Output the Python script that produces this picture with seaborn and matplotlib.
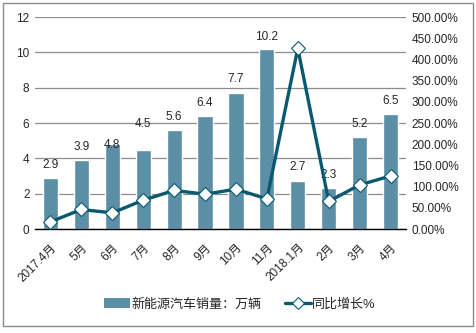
import numpy as np
import pandas as pd
import matplotlib
matplotlib.use("Agg")
import matplotlib.pyplot as plt
import seaborn as sns
from matplotlib.patches import Rectangle
from matplotlib.lines import Line2D
from matplotlib.ticker import FuncFormatter

months = ["2017.4月", "5月", "6月", "7月", "8月", "9月", "10月", "11月",
          "2018.1月", "2月", "3月", "4月"]
sales = [2.9, 3.9, 4.8, 4.5, 5.6, 6.4, 7.7, 10.2, 2.7, 2.3, 5.2, 6.5]
growth = [17, 46, 38, 68, 91, 82, 94, 71, 426, 65, 104, 125]
bar_name = "新能源汽车销量：万辆"
line_name = "同比增长%"

sns.set_theme(style="white")
plt.rcParams["font.family"] = ["Liberation Sans", "Noto Sans CJK SC", "DejaVu Sans"]

bar_color = "#5B8FA6"
line_color = "#0B5970"
text_color = "#262626"

df = pd.DataFrame({"month": months, "sales": sales, "growth": growth})
df["pos"] = np.arange(len(df))

fig = plt.figure(figsize=(4.77, 3.33), dpi=100)
ax = fig.add_axes([35/477, 1-229/333, (406-35)/477, (229-17)/333])

sns.barplot(data=df, x="month", y="sales", color=bar_color, saturation=1,
            width=0.49, ax=ax, order=months)
ax.set_ylim(0, 12)
ax.set_yticks(np.arange(0, 13, 2))
ax.set_xlim(-0.5, len(months)-0.5)
ax.grid(axis="y", color="#8C8C8C", linewidth=0.9)
ax.set_axisbelow(True)
for s in ["left", "right", "top"]:
    ax.spines[s].set_visible(False)
ax.spines["bottom"].set_color("#000000")
ax.spines["bottom"].set_linewidth(1.0)
ax.set_xlabel("")
ax.set_ylabel("")
ax.tick_params(axis="y", length=0, labelsize=8.5, colors=text_color, pad=4)
ax.tick_params(axis="x", length=0, labelsize=8.5, colors=text_color, pad=9)
plt.setp(ax.get_xticklabels(), rotation=45, ha="right", rotation_mode="anchor")

# value labels
nudge_px = [13, 13, -1, 26, 13, 13, 14, 12, 14, 13, 13, 13]
for i, v in enumerate(sales):
    ax.annotate(f"{v:g}", (i, v), xytext=(0, nudge_px[i]*0.72), textcoords="offset points",
                ha="center", va="center", fontsize=8.5, color=text_color)

ax2 = ax.twinx()
sns.lineplot(data=df, x="pos", y="growth", ax=ax2, color=line_color, linewidth=2.4,
             marker="D", markersize=7, markerfacecolor="white",
             markeredgecolor=line_color, markeredgewidth=0.8, zorder=5)
ax2.set_ylim(0, 500)
ax2.set_yticks(np.arange(0, 501, 50))
ax2.yaxis.set_major_formatter(FuncFormatter(lambda v, p: f"{v:.2f}%"))
ax2.set_xlim(-0.5, len(months)-0.5)
for s in ["left", "right", "top", "bottom"]:
    ax2.spines[s].set_visible(False)
ax2.set_xlabel("")
ax2.set_ylabel("")
ax2.tick_params(axis="y", length=0, labelsize=8.5, colors=text_color, pad=4)
ax2.grid(False)

handles = [Rectangle((0, 0), 1, 1, facecolor=bar_color, edgecolor="none"),
           Line2D([0], [0], color=line_color, linewidth=2.4, marker="D", markersize=6,
                  markerfacecolor="white", markeredgecolor=line_color, markeredgewidth=0.8)]
fig.legend(handles, [bar_name, line_name], loc="center", ncol=2,
           bbox_to_anchor=(240/477, 1-304/333), frameon=False, fontsize=9.4,
           handlelength=2.0, handleheight=0.9, handletextpad=0.1, columnspacing=1.8,
           labelcolor=text_color)

border = Rectangle((3/477, 1-326/333), 470/477, 323/333, transform=fig.transFigure,
                   fill=False, edgecolor="#8C8C8C", linewidth=1.0)
fig.patches.append(border)

fig.savefig("out.png", dpi=100)
